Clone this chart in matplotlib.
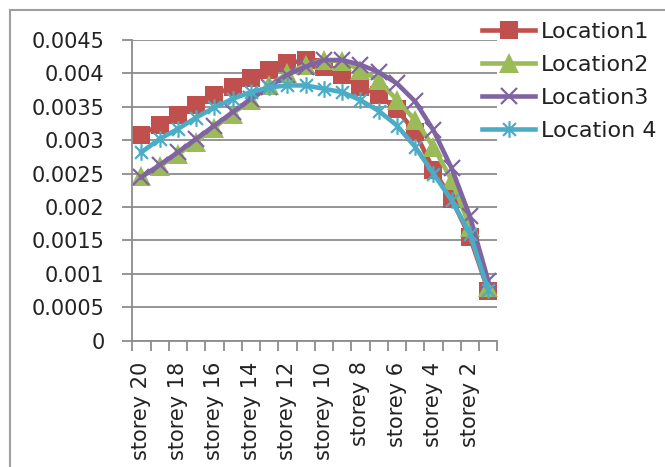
import matplotlib
matplotlib.use("Agg")
import matplotlib.pyplot as plt
from matplotlib.path import Path
from matplotlib.patches import Rectangle

# storey 20 down to storey 1
storeys = [f"storey {n}" for n in range(20, 0, -1)]

loc1 = [0.00308, 0.00323, 0.00338, 0.00353, 0.00368, 0.00380, 0.00393, 0.00405, 0.00415, 0.00420,
        0.00410, 0.00398, 0.00380, 0.00368, 0.00346, 0.00312, 0.00256, 0.00212, 0.00155, 0.00075]
loc2 = [0.00246, 0.00261, 0.00279, 0.00298, 0.00319, 0.00340, 0.00360, 0.00382, 0.00400, 0.00413,
        0.00420, 0.00418, 0.00405, 0.00390, 0.00360, 0.00330, 0.00290, 0.00240, 0.00170, 0.00080]
loc3 = [0.00245, 0.00263, 0.00282, 0.00302, 0.00322, 0.00342, 0.00362, 0.00380, 0.00398, 0.00410,
        0.00420, 0.00420, 0.00413, 0.00402, 0.00385, 0.00358, 0.00315, 0.00258, 0.00186, 0.00090]
loc4 = [0.00282, 0.00302, 0.00317, 0.00334, 0.00349, 0.00362, 0.00372, 0.00379, 0.00382, 0.00382,
        0.00377, 0.00372, 0.00360, 0.00344, 0.00322, 0.00290, 0.00250, 0.00210, 0.00160, 0.00076]

series = [
    ("Location1", loc1, "#C0504D"),
    ("Location2", loc2, "#9BBB59"),
    ("Location3", loc3, "#8064A2"),
    ("Location 4", loc4, "#4BACC6"),
]

yticks = [0, 0.0005, 0.001, 0.0015, 0.002, 0.0025, 0.003, 0.0035, 0.004, 0.0045]
ytick_labels = ["0", "0.0005", "0.001", "0.0015", "0.002", "0.0025", "0.003", "0.0035", "0.004", "0.0045"]

# Excel style asterisk: an X with a vertical bar
star = Path([(-1, -1), (1, 1), (-1, 1), (1, -1), (0, -1.3), (0, 1.3)],
            [Path.MOVETO, Path.LINETO, Path.MOVETO, Path.LINETO, Path.MOVETO, Path.LINETO])

markers = [
    dict(marker="s", markersize=13.5, markeredgewidth=0),
    dict(marker="^", markersize=14, markeredgewidth=0),
    dict(marker="x", markersize=12, markeredgewidth=1.6),
    dict(marker=star, markersize=12, markeredgewidth=1.6),
]

grid_col = "#8C8C8C"

fig = plt.figure(figsize=(6.65, 4.67), dpi=100)
fig.patches.append(Rectangle((10 / 665, -0.1), 1.2, 1 - 10 / 467 + 0.1, transform=fig.transFigure,
                             fill=False, edgecolor="#A0A0A0", linewidth=1.5))
ax = fig.add_axes([132.3 / 665, 1 - 340.7 / 467, 365 / 665, 300.7 / 467])

x = list(range(len(storeys)))
for (name, vals, col), mk in zip(series, markers):
    ax.plot(x, vals, color=col, linewidth=3.3, label=name, markerfacecolor=col,
            markeredgecolor=col, **mk)

ax.set_ylim(0, 0.0045)
ax.set_xlim(-0.5, len(storeys) - 0.5)
ax.set_yticks(yticks)
ax.set_yticklabels(ytick_labels, fontsize=15, color="#222222")
ax.yaxis.grid(True, color=grid_col, linewidth=1.3)
ax.set_axisbelow(True)

ax.set_xticks(x[::2])
ax.set_xticklabels(storeys[::2], rotation=90, fontsize=15, color="#222222", va="top")
ax.set_xticks([i - 0.5 for i in range(len(storeys) + 1)], minor=True)
ax.tick_params(axis="x", which="major", length=0, pad=15)
ax.tick_params(axis="x", which="minor", length=7, width=1.3, color=grid_col)
ax.tick_params(axis="y", length=7, width=1.3, color=grid_col, pad=13)

for side in ["top", "right"]:
    ax.spines[side].set_visible(False)
for side in ["left", "bottom"]:
    ax.spines[side].set_color(grid_col)
    ax.spines[side].set_linewidth(1.3)

leg = ax.legend(loc="upper left", bbox_to_anchor=(482 / 665, 1 - 22 / 467),
                bbox_transform=fig.transFigure, frameon=False, fontsize=16,
                handlelength=2.4, handletextpad=0.25, labelspacing=0.58,
                borderpad=0, borderaxespad=0, numpoints=1)
for t in leg.get_texts():
    t.set_color("#222222")

fig.savefig("out.png", dpi=100)
